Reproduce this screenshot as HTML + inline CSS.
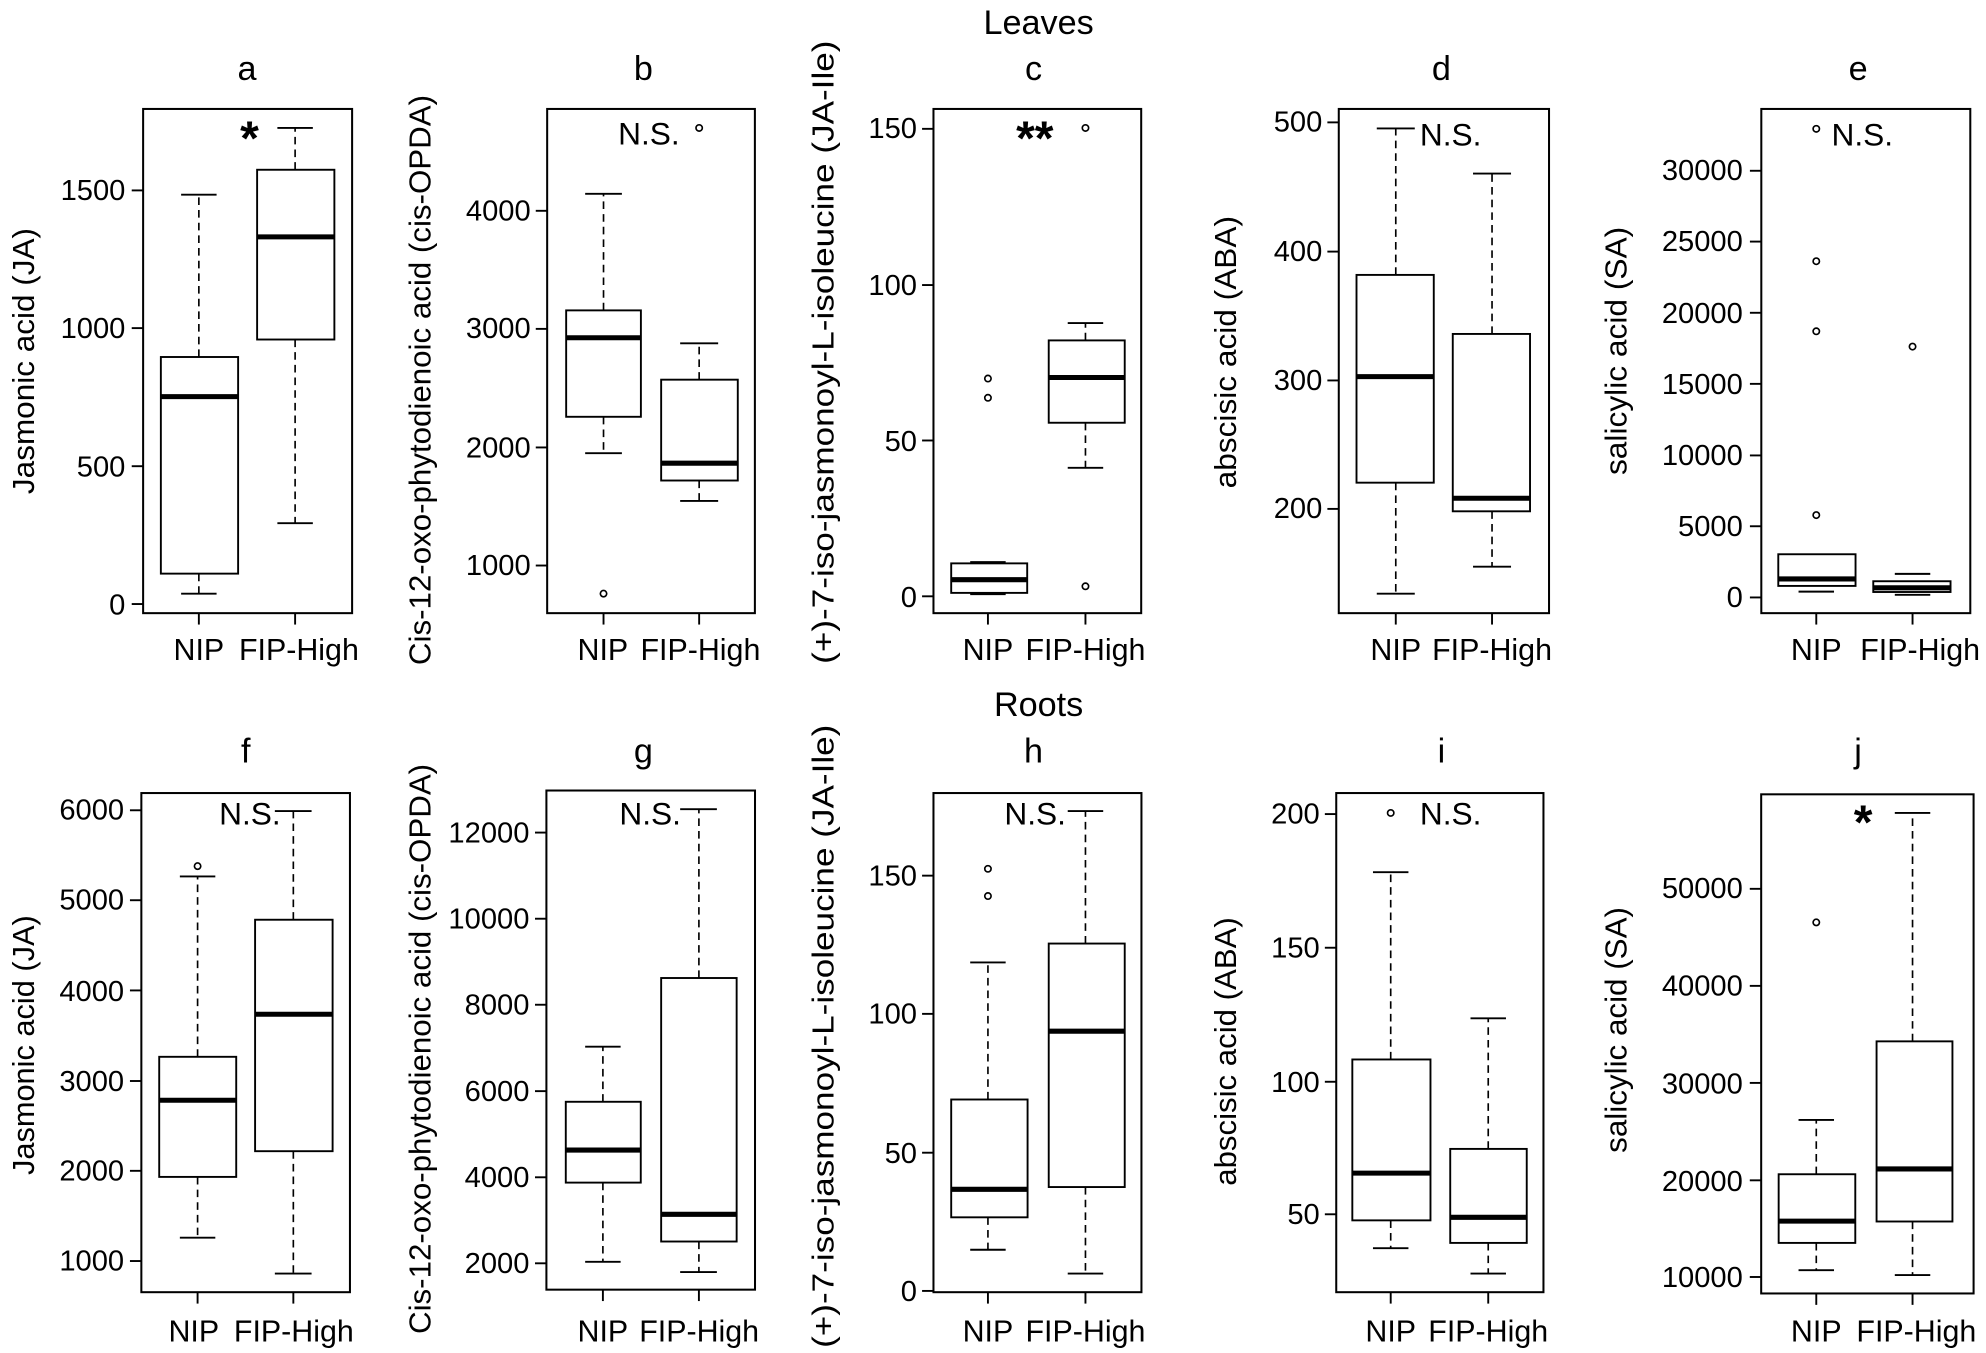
<!DOCTYPE html>
<html><head><meta charset="utf-8"><style>
html,body{margin:0;padding:0;background:#fff}
svg{display:block}
text{font-family:"Liberation Sans",Arial,sans-serif;fill:#000}
.f{fill:none;stroke:#000;stroke-width:1.6}
.b{fill:#fff;stroke:#000;stroke-width:1.5}
.w{stroke:#000;stroke-width:1.3;stroke-dasharray:6 4}
.s{stroke:#000;stroke-width:1.5}
.m{stroke:#000;stroke-width:4}
.o{fill:none;stroke:#000;stroke-width:1.3}
.t{font-size:23px;text-anchor:end}
.x{font-size:24px;text-anchor:middle}
.yl{font-size:24px;text-anchor:middle}
.ti{font-size:27px;text-anchor:middle}
.ns{font-size:25px}
.st{font-size:38px;font-weight:bold;text-anchor:middle}
</style></head><body>
<svg width="1986" height="1353" viewBox="0 0 1568 1068" preserveAspectRatio="none" xmlns="http://www.w3.org/2000/svg">
<text class="ti" x="820" y="27">Leaves</text>
<text class="ti" x="820" y="565">Roots</text>
<g class="ti">
<text x="195" y="63">a</text><text x="508" y="63">b</text><text x="816" y="63">c</text><text x="1138" y="63">d</text><text x="1467" y="63">e</text>
<text x="194" y="602">f</text><text x="508" y="602">g</text><text x="816" y="602">h</text><text x="1138" y="602">i</text><text x="1467" y="602">j</text>
</g>

<!-- Panel a -->
<rect class="f" x="113" y="86" width="165" height="398"/>
<line class="s" x1="104" y1="150.3" x2="113" y2="150.3"/><line class="s" x1="104" y1="259" x2="113" y2="259"/><line class="s" x1="104" y1="368" x2="113" y2="368"/><line class="s" x1="104" y1="476.8" x2="113" y2="476.8"/>
<text class="t" x="99" y="158">1500</text><text class="t" x="99" y="267">1000</text><text class="t" x="99" y="376">500</text><text class="t" x="99" y="485">0</text>
<line class="s" x1="157" y1="484" x2="157" y2="493"/><line class="s" x1="233" y1="484" x2="233" y2="493"/>
<text class="x" x="157" y="521">NIP</text><text class="x" x="236" y="521">FIP-High</text>
<text class="yl" transform="translate(27,285) rotate(-90)" textLength="210" lengthAdjust="spacingAndGlyphs">Jasmonic acid (JA)</text>
<line class="w" x1="157" y1="281.8" x2="157" y2="153.7"/><line class="w" x1="157" y1="452.8" x2="157" y2="468.6"/>
<line class="s" x1="143" y1="153.7" x2="171" y2="153.7"/><line class="s" x1="143" y1="468.6" x2="171" y2="468.6"/>
<rect class="b" x="127" y="281.8" width="61" height="171"/><line class="m" x1="127" y1="313.1" x2="188" y2="313.1"/>
<line class="w" x1="233" y1="134" x2="233" y2="101"/><line class="w" x1="233" y1="268" x2="233" y2="413"/>
<line class="s" x1="219" y1="101" x2="247" y2="101"/><line class="s" x1="219" y1="413" x2="247" y2="413"/>
<rect class="b" x="203" y="134" width="61" height="134"/><line class="m" x1="203" y1="187" x2="264" y2="187"/>
<text class="st" x="197" y="122">*</text>

<!-- Panel b -->
<rect class="f" x="432" y="86" width="164" height="398"/>
<line class="s" x1="423" y1="166.4" x2="432" y2="166.4"/><line class="s" x1="423" y1="259.6" x2="432" y2="259.6"/><line class="s" x1="423" y1="353.2" x2="432" y2="353.2"/><line class="s" x1="423" y1="446.4" x2="432" y2="446.4"/>
<text class="t" x="419" y="174">4000</text><text class="t" x="419" y="267">3000</text><text class="t" x="419" y="361">2000</text><text class="t" x="419" y="454">1000</text>
<line class="s" x1="476.5" y1="484" x2="476.5" y2="493"/><line class="s" x1="552" y1="484" x2="552" y2="493"/>
<text class="x" x="476" y="521">NIP</text><text class="x" x="553" y="521">FIP-High</text>
<text class="yl" transform="translate(340,300) rotate(-90)" textLength="450" lengthAdjust="spacingAndGlyphs">Cis-12-oxo-phytodienoic acid (cis-OPDA)</text>
<line class="w" x1="476.5" y1="245" x2="476.5" y2="153"/><line class="w" x1="476.5" y1="329" x2="476.5" y2="357.7"/>
<line class="s" x1="462" y1="153" x2="491" y2="153"/><line class="s" x1="462" y1="357.7" x2="491" y2="357.7"/>
<rect class="b" x="447" y="245" width="59" height="84"/><line class="m" x1="447" y1="266.6" x2="506" y2="266.6"/>
<circle class="o" cx="476.5" cy="468.6" r="2.5"/>
<line class="w" x1="552" y1="299.7" x2="552" y2="271"/><line class="w" x1="552" y1="379.3" x2="552" y2="395.4"/>
<line class="s" x1="537" y1="271" x2="567" y2="271"/><line class="s" x1="537" y1="395.4" x2="567" y2="395.4"/>
<rect class="b" x="522" y="299.7" width="60.5" height="79.6"/><line class="m" x1="522" y1="365.6" x2="582.5" y2="365.6"/>
<circle class="o" cx="552" cy="101" r="2.5"/>
<text class="ns" x="488" y="114">N.S.</text>

<!-- Panel c -->
<rect class="f" x="737" y="86" width="164" height="398"/>
<line class="s" x1="728" y1="101.7" x2="737" y2="101.7"/><line class="s" x1="728" y1="225" x2="737" y2="225"/><line class="s" x1="728" y1="347.7" x2="737" y2="347.7"/><line class="s" x1="728" y1="470.7" x2="737" y2="470.7"/>
<text class="t" x="724" y="109">150</text><text class="t" x="724" y="233">100</text><text class="t" x="724" y="356">50</text><text class="t" x="724" y="479">0</text>
<line class="s" x1="780" y1="484" x2="780" y2="493"/><line class="s" x1="857" y1="484" x2="857" y2="493"/>
<text class="x" x="780" y="521">NIP</text><text class="x" x="857" y="521">FIP-High</text>
<text class="yl" transform="translate(658,278) rotate(-90)" textLength="492" lengthAdjust="spacingAndGlyphs">(+)-7-iso-jasmonoyl-L-isoleucine (JA-Ile)</text>
<line class="s" x1="766" y1="443.7" x2="794" y2="443.7"/><line class="s" x1="766" y1="469" x2="794" y2="469"/>
<rect class="b" x="751" y="444.7" width="60" height="23.3"/><line class="m" x1="751" y1="457.6" x2="811" y2="457.6"/>
<circle class="o" cx="780" cy="298.8" r="2.5"/><circle class="o" cx="780" cy="314" r="2.5"/>
<line class="w" x1="857" y1="268.7" x2="857" y2="255"/><line class="w" x1="857" y1="333.7" x2="857" y2="369.3"/>
<line class="s" x1="843" y1="255" x2="871" y2="255"/><line class="s" x1="843" y1="369.3" x2="871" y2="369.3"/>
<rect class="b" x="828" y="268.7" width="60" height="65"/><line class="m" x1="828" y1="298" x2="888" y2="298"/>
<circle class="o" cx="857" cy="101" r="2.5"/><circle class="o" cx="857" cy="462.8" r="2.5"/>
<text class="st" x="817" y="122">**</text>

<!-- Panel d -->
<rect class="f" x="1057" y="86" width="166" height="398"/>
<line class="s" x1="1048" y1="96.6" x2="1057" y2="96.6"/><line class="s" x1="1048" y1="198.6" x2="1057" y2="198.6"/><line class="s" x1="1048" y1="300.3" x2="1057" y2="300.3"/><line class="s" x1="1048" y1="401.7" x2="1057" y2="401.7"/>
<text class="t" x="1044" y="104">500</text><text class="t" x="1044" y="206">400</text><text class="t" x="1044" y="308">300</text><text class="t" x="1044" y="409">200</text>
<line class="s" x1="1102" y1="484" x2="1102" y2="493"/><line class="s" x1="1178" y1="484" x2="1178" y2="493"/>
<text class="x" x="1102" y="521">NIP</text><text class="x" x="1178" y="521">FIP-High</text>
<text class="yl" transform="translate(976,278) rotate(-90)" textLength="215" lengthAdjust="spacingAndGlyphs">abscisic acid (ABA)</text>
<line class="w" x1="1102" y1="217" x2="1102" y2="101.4"/><line class="w" x1="1102" y1="381" x2="1102" y2="468.6"/>
<line class="s" x1="1087" y1="101.4" x2="1117" y2="101.4"/><line class="s" x1="1087" y1="468.6" x2="1117" y2="468.6"/>
<rect class="b" x="1071" y="217" width="61" height="164"/><line class="m" x1="1071" y1="297.3" x2="1132" y2="297.3"/>
<line class="w" x1="1178" y1="263.6" x2="1178" y2="137"/><line class="w" x1="1178" y1="403.6" x2="1178" y2="447.3"/>
<line class="s" x1="1163" y1="137" x2="1193" y2="137"/><line class="s" x1="1163" y1="447.3" x2="1193" y2="447.3"/>
<rect class="b" x="1147" y="263.6" width="61" height="140"/><line class="m" x1="1147" y1="393.3" x2="1208" y2="393.3"/>
<text class="ns" x="1121" y="115">N.S.</text>

<!-- Panel e -->
<rect class="f" x="1390.6" y="86" width="165" height="398"/>
<g class="s">
<line x1="1381.6" y1="134.8" x2="1390.6" y2="134.8"/><line x1="1381.6" y1="190.7" x2="1390.6" y2="190.7"/><line x1="1381.6" y1="246.9" x2="1390.6" y2="246.9"/><line x1="1381.6" y1="303" x2="1390.6" y2="303"/><line x1="1381.6" y1="359.5" x2="1390.6" y2="359.5"/><line x1="1381.6" y1="415.4" x2="1390.6" y2="415.4"/><line x1="1381.6" y1="471.6" x2="1390.6" y2="471.6"/>
</g>
<text class="t" x="1376" y="142">30000</text><text class="t" x="1376" y="198">25000</text><text class="t" x="1376" y="255">20000</text><text class="t" x="1376" y="311">15000</text><text class="t" x="1376" y="367">10000</text><text class="t" x="1376" y="423">5000</text><text class="t" x="1376" y="479">0</text>
<line class="s" x1="1434" y1="484" x2="1434" y2="493"/><line class="s" x1="1510" y1="484" x2="1510" y2="493"/>
<text class="x" x="1434" y="521">NIP</text><text class="x" x="1516" y="521">FIP-High</text>
<text class="yl" transform="translate(1284,277) rotate(-90)" textLength="196" lengthAdjust="spacingAndGlyphs">salicylic acid (SA)</text>
<line class="s" x1="1420" y1="440.3" x2="1448" y2="440.3"/><line class="s" x1="1420" y1="467" x2="1448" y2="467"/>
<rect class="b" x="1404" y="437.5" width="61" height="25"/><line class="m" x1="1404" y1="457" x2="1465" y2="457"/>
<circle class="o" cx="1434" cy="101.7" r="2.5"/><circle class="o" cx="1434" cy="206.2" r="2.5"/><circle class="o" cx="1434" cy="261.5" r="2.5"/><circle class="o" cx="1434" cy="406.6" r="2.5"/>
<line class="s" x1="1496" y1="453" x2="1524" y2="453"/><line class="s" x1="1496" y1="469.5" x2="1524" y2="469.5"/>
<rect class="b" x="1479" y="458.8" width="61" height="8.5"/><line class="m" x1="1479" y1="464" x2="1540" y2="464"/>
<circle class="o" cx="1510" cy="273.6" r="2.5"/>
<text class="ns" x="1446" y="115">N.S.</text>

<!-- Panel f -->
<rect class="f" x="111.6" y="626" width="164.7" height="394"/>
<g class="s">
<line x1="102.6" y1="639.6" x2="111.6" y2="639.6"/><line x1="102.6" y1="710.6" x2="111.6" y2="710.6"/><line x1="102.6" y1="781.8" x2="111.6" y2="781.8"/><line x1="102.6" y1="853.3" x2="111.6" y2="853.3"/><line x1="102.6" y1="924.2" x2="111.6" y2="924.2"/><line x1="102.6" y1="995.4" x2="111.6" y2="995.4"/>
</g>
<text class="t" x="98" y="647">6000</text><text class="t" x="98" y="718">5000</text><text class="t" x="98" y="790">4000</text><text class="t" x="98" y="861">3000</text><text class="t" x="98" y="932">2000</text><text class="t" x="98" y="1003">1000</text>
<line class="s" x1="156" y1="1020" x2="156" y2="1029"/><line class="s" x1="231.6" y1="1020" x2="231.6" y2="1029"/>
<text class="x" x="153" y="1059">NIP</text><text class="x" x="232" y="1059">FIP-High</text>
<text class="yl" transform="translate(27,825) rotate(-90)" textLength="205" lengthAdjust="spacingAndGlyphs">Jasmonic acid (JA)</text>
<line class="w" x1="156" y1="834.2" x2="156" y2="691.8"/><line class="w" x1="156" y1="929" x2="156" y2="977"/>
<line class="s" x1="142" y1="691.8" x2="170" y2="691.8"/><line class="s" x1="142" y1="977" x2="170" y2="977"/>
<rect class="b" x="125.7" y="834.2" width="60.8" height="94.8"/><line class="m" x1="125.7" y1="868.5" x2="186.5" y2="868.5"/>
<circle class="o" cx="156" cy="683.7" r="2.5"/>
<line class="w" x1="231.6" y1="726" x2="231.6" y2="640.2"/><line class="w" x1="231.6" y1="908.7" x2="231.6" y2="1005.3"/>
<line class="s" x1="217" y1="640.2" x2="246" y2="640.2"/><line class="s" x1="217" y1="1005.3" x2="246" y2="1005.3"/>
<rect class="b" x="201.4" y="726" width="61.2" height="182.7"/><line class="m" x1="201.4" y1="800.6" x2="262.6" y2="800.6"/>
<text class="ns" x="173" y="651">N.S.</text>

<!-- Panel g -->
<rect class="f" x="431.4" y="624" width="164.7" height="394"/>
<g class="s">
<line x1="422.4" y1="657.2" x2="431.4" y2="657.2"/><line x1="422.4" y1="725.2" x2="431.4" y2="725.2"/><line x1="422.4" y1="793.1" x2="431.4" y2="793.1"/><line x1="422.4" y1="861.3" x2="431.4" y2="861.3"/><line x1="422.4" y1="929.3" x2="431.4" y2="929.3"/><line x1="422.4" y1="997.2" x2="431.4" y2="997.2"/>
</g>
<text class="t" x="418" y="665">12000</text><text class="t" x="418" y="733">10000</text><text class="t" x="418" y="801">8000</text><text class="t" x="418" y="869">6000</text><text class="t" x="418" y="937">4000</text><text class="t" x="418" y="1005">2000</text>
<line class="s" x1="476" y1="1018" x2="476" y2="1027"/><line class="s" x1="551.8" y1="1018" x2="551.8" y2="1027"/>
<text class="x" x="476" y="1059">NIP</text><text class="x" x="552" y="1059">FIP-High</text>
<text class="yl" transform="translate(340,828) rotate(-90)" textLength="450" lengthAdjust="spacingAndGlyphs">Cis-12-oxo-phytodienoic acid (cis-OPDA)</text>
<line class="w" x1="476" y1="869.7" x2="476" y2="826.2"/><line class="w" x1="476" y1="933.5" x2="476" y2="996"/>
<line class="s" x1="462" y1="826.2" x2="490" y2="826.2"/><line class="s" x1="462" y1="996" x2="490" y2="996"/>
<rect class="b" x="446.7" y="869.7" width="59.2" height="63.8"/><line class="m" x1="446.7" y1="907.8" x2="505.9" y2="907.8"/>
<line class="w" x1="551.8" y1="772" x2="551.8" y2="638.7"/><line class="w" x1="551.8" y1="980" x2="551.8" y2="1004.1"/>
<line class="s" x1="537" y1="638.7" x2="566" y2="638.7"/><line class="s" x1="537" y1="1004.1" x2="566" y2="1004.1"/>
<rect class="b" x="522" y="772" width="59.6" height="208"/><line class="m" x1="522" y1="958.5" x2="581.6" y2="958.5"/>
<text class="ns" x="489" y="651">N.S.</text>

<!-- Panel h -->
<rect class="f" x="737" y="626" width="164.2" height="394"/>
<g class="s">
<line x1="728" y1="691.2" x2="737" y2="691.2"/><line x1="728" y1="800.3" x2="737" y2="800.3"/><line x1="728" y1="909.9" x2="737" y2="909.9"/><line x1="728" y1="1019" x2="737" y2="1019"/>
</g>
<text class="t" x="724" y="699">150</text><text class="t" x="724" y="808">100</text><text class="t" x="724" y="918">50</text><text class="t" x="724" y="1027">0</text>
<line class="s" x1="780" y1="1020" x2="780" y2="1029"/><line class="s" x1="857" y1="1020" x2="857" y2="1029"/>
<text class="x" x="780" y="1059">NIP</text><text class="x" x="857" y="1059">FIP-High</text>
<text class="yl" transform="translate(658,818) rotate(-90)" textLength="492" lengthAdjust="spacingAndGlyphs">(+)-7-iso-jasmonoyl-L-isoleucine (JA-Ile)</text>
<line class="w" x1="780" y1="867.9" x2="780" y2="759.7"/><line class="w" x1="780" y1="960.9" x2="780" y2="986.5"/>
<line class="s" x1="766" y1="759.7" x2="794" y2="759.7"/><line class="s" x1="766" y1="986.5" x2="794" y2="986.5"/>
<rect class="b" x="751" y="867.9" width="60.3" height="93"/><line class="m" x1="751" y1="938.8" x2="811.3" y2="938.8"/>
<circle class="o" cx="780" cy="685.8" r="2.5"/><circle class="o" cx="780" cy="707.3" r="2.5"/>
<line class="w" x1="857" y1="744.8" x2="857" y2="640.2"/><line class="w" x1="857" y1="937" x2="857" y2="1005.3"/>
<line class="s" x1="843" y1="640.2" x2="871" y2="640.2"/><line class="s" x1="843" y1="1005.3" x2="871" y2="1005.3"/>
<rect class="b" x="828" y="744.8" width="60" height="192.2"/><line class="m" x1="828" y1="814" x2="888" y2="814"/>
<text class="ns" x="793" y="651">N.S.</text>

<!-- Panel i -->
<rect class="f" x="1055" y="626" width="163.6" height="394"/>
<g class="s">
<line x1="1046" y1="642.6" x2="1055" y2="642.6"/><line x1="1046" y1="748.1" x2="1055" y2="748.1"/><line x1="1046" y1="853.9" x2="1055" y2="853.9"/><line x1="1046" y1="958.5" x2="1055" y2="958.5"/>
</g>
<text class="t" x="1042" y="650">200</text><text class="t" x="1042" y="756">150</text><text class="t" x="1042" y="862">100</text><text class="t" x="1042" y="966">50</text>
<line class="s" x1="1098" y1="1020" x2="1098" y2="1029"/><line class="s" x1="1175" y1="1020" x2="1175" y2="1029"/>
<text class="x" x="1098" y="1059">NIP</text><text class="x" x="1175" y="1059">FIP-High</text>
<text class="yl" transform="translate(976,830) rotate(-90)" textLength="212" lengthAdjust="spacingAndGlyphs">abscisic acid (ABA)</text>
<line class="w" x1="1098" y1="836.3" x2="1098" y2="688.5"/><line class="w" x1="1098" y1="963.3" x2="1098" y2="985.3"/>
<line class="s" x1="1084" y1="688.5" x2="1112" y2="688.5"/><line class="s" x1="1084" y1="985.3" x2="1112" y2="985.3"/>
<rect class="b" x="1067.7" y="836.3" width="61.7" height="127"/><line class="m" x1="1067.7" y1="926" x2="1129.4" y2="926"/>
<circle class="o" cx="1098" cy="641.7" r="2.5"/>
<line class="w" x1="1175" y1="906.9" x2="1175" y2="803.8"/><line class="w" x1="1175" y1="981.1" x2="1175" y2="1005.3"/>
<line class="s" x1="1161" y1="803.8" x2="1189" y2="803.8"/><line class="s" x1="1161" y1="1005.3" x2="1189" y2="1005.3"/>
<rect class="b" x="1145" y="906.9" width="60.4" height="74.2"/><line class="m" x1="1145" y1="960.9" x2="1205.4" y2="960.9"/>
<text class="ns" x="1121" y="651">N.S.</text>

<!-- Panel j -->
<rect class="f" x="1390.5" y="627" width="167.7" height="394"/>
<g class="s">
<line x1="1381.5" y1="701.6" x2="1390.5" y2="701.6"/><line x1="1381.5" y1="778.2" x2="1390.5" y2="778.2"/><line x1="1381.5" y1="854.8" x2="1390.5" y2="854.8"/><line x1="1381.5" y1="931.7" x2="1390.5" y2="931.7"/><line x1="1381.5" y1="1008" x2="1390.5" y2="1008"/>
</g>
<text class="t" x="1376" y="709">50000</text><text class="t" x="1376" y="786">40000</text><text class="t" x="1376" y="863">30000</text><text class="t" x="1376" y="940">20000</text><text class="t" x="1376" y="1016">10000</text>
<line class="s" x1="1434" y1="1021" x2="1434" y2="1030"/><line class="s" x1="1510" y1="1021" x2="1510" y2="1030"/>
<text class="x" x="1434" y="1059">NIP</text><text class="x" x="1513" y="1059">FIP-High</text>
<text class="yl" transform="translate(1284,813) rotate(-90)" textLength="194" lengthAdjust="spacingAndGlyphs">salicylic acid (SA)</text>
<line class="w" x1="1434" y1="926.9" x2="1434" y2="884"/><line class="w" x1="1434" y1="981.1" x2="1434" y2="1002.6"/>
<line class="s" x1="1420" y1="884" x2="1448" y2="884"/><line class="s" x1="1420" y1="1002.6" x2="1448" y2="1002.6"/>
<rect class="b" x="1404.3" y="926.9" width="60.5" height="54.2"/><line class="m" x1="1404.3" y1="963.9" x2="1464.8" y2="963.9"/>
<circle class="o" cx="1434" cy="728.1" r="2.5"/>
<line class="w" x1="1510" y1="822" x2="1510" y2="641.7"/><line class="w" x1="1510" y1="964.2" x2="1510" y2="1006.5"/>
<line class="s" x1="1496" y1="641.7" x2="1524" y2="641.7"/><line class="s" x1="1496" y1="1006.5" x2="1524" y2="1006.5"/>
<rect class="b" x="1481.6" y="822" width="59.9" height="142.2"/><line class="m" x1="1481.6" y1="922.7" x2="1541.5" y2="922.7"/>
<text class="st" x="1471" y="662">*</text>
</svg>
</body></html>
